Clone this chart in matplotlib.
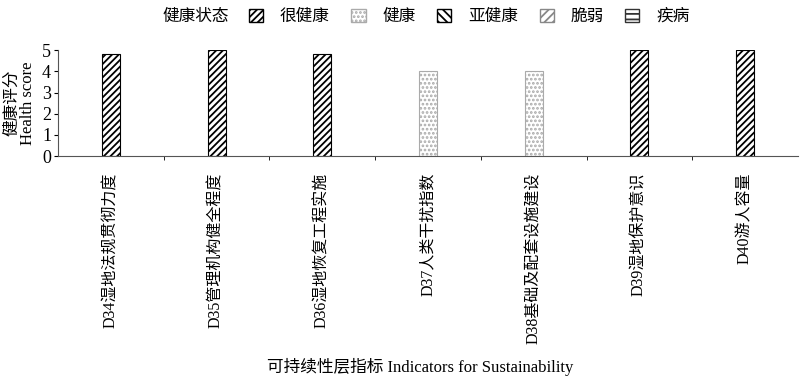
import matplotlib.pyplot as plt
from matplotlib.patches import Patch

plt.rcParams['font.family'] = ['Liberation Serif', 'Noto Sans CJK SC']
plt.rcParams['hatch.linewidth'] = 1.3

categories = ["D34湿地法规贯彻力度", "D35管理机构健全程度", "D36湿地恢复工程实施",
              "D37人类干扰指数", "D38基础及配套设施建设", "D39湿地保护意识", "D40游人容量"]
scores = [4.8, 5.0, 4.8, 4.0, 4.0, 5.0, 5.0]
status = ["很健康", "很健康", "很健康", "健康", "健康", "很健康", "很健康"]

status_names = ["很健康", "健康", "亚健康", "脆弱", "疾病"]
hatches = {"很健康": "/////", "健康": "....", "亚健康": "\\\\\\\\", "脆弱": "////", "疾病": "---"}
edges = {"很健康": "black", "健康": "#aaaaaa", "亚健康": "black", "脆弱": "#888888", "疾病": "#333333"}

fig = plt.figure(figsize=(8, 3.77), dpi=100)
ax = fig.add_axes([0.0725, 0.586, 0.925, 0.281])

x = list(range(len(categories)))
for xi, v, s in zip(x, scores, status):
    ax.bar(xi, v, width=0.17, color="white", edgecolor=edges[s], hatch=hatches[s], linewidth=0.8)

ax.set_xlim(-0.5, len(categories) - 0.5)
ax.set_ylim(0, 5)
ax.set_yticks(range(6))
ax.set_xticks(x)
ax.set_xticklabels(categories, rotation=90, fontsize=11.5)
ax.set_xticks([i + 0.5 for i in x[:-1]], minor=True)
ax.tick_params(axis="x", which="major", length=0, pad=12)
ax.tick_params(axis="x", which="minor", length=3, direction="out")
ax.tick_params(axis="y", labelsize=13, length=3, pad=2)
for sp in ["top", "right"]:
    ax.spines[sp].set_visible(False)
ax.spines["left"].set_color("#555555")
ax.spines["bottom"].set_color("#555555")

ax.set_ylabel("健康评分\nHealth score", fontsize=12, labelpad=4, linespacing=1.0)
fig.text(0.525, 0.012, "可持续性层指标 Indicators for Sustainability", ha="center", fontsize=12)

handles = [Patch(facecolor="white", edgecolor=edges[s], hatch=hatches[s], label=s) for s in status_names]
fig.text(0.245, 0.955, "健康状态", ha="center", va="center", fontsize=12)
fig.legend(handles=handles, loc="center left", bbox_to_anchor=(0.303, 0.955), ncol=5,
           frameon=False, fontsize=12, handlelength=0.85, handleheight=0.8,
           handletextpad=1.0, columnspacing=1.3, borderaxespad=0)

plt.savefig("out.png", dpi=100, facecolor="white")
